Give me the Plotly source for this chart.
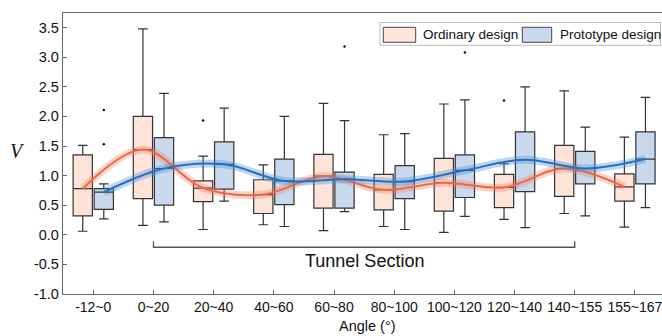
import plotly.graph_objects as go

# ---------------- data ----------------
categories = ["-12~0", "0~20", "20~40", "40~60", "60~80", "80~100",
              "100~120", "120~140", "140~155", "155~167"]

ord_lower = [0.06, 0.16, 0.09, 0.17, 0.07, 0.14, 0.04, 0.26, 0.36, 0.13]
ord_q1 = [0.32, 0.61, 0.56, 0.36, 0.45, 0.42, 0.40, 0.46, 0.65, 0.57]
ord_median = [0.78, 1.44, 0.79, 0.68, 0.99, 0.76, 0.88, 0.80, 1.12, 0.81]
ord_q3 = [1.35, 2.00, 0.91, 0.93, 1.36, 1.02, 1.29, 1.02, 1.51, 1.03]
ord_upper = [1.51, 3.48, 1.33, 1.18, 2.22, 1.69, 2.21, 1.20, 2.43, 1.65]

pro_lower = [0.27, 0.22, 0.57, 0.14, 0.39, 0.09, 0.31, 0.12, 0.32, 0.46]
pro_q1 = [0.43, 0.50, 0.77, 0.51, 0.45, 0.61, 0.63, 0.73, 0.86, 0.86]
pro_median = [0.72, 1.12, 1.19, 0.91, 0.94, 0.90, 1.09, 1.27, 1.12, 1.28]
pro_q3 = [0.78, 1.64, 1.57, 1.28, 1.06, 1.17, 1.35, 1.74, 1.41, 1.74]
pro_upper = [0.86, 2.39, 2.14, 2.00, 1.93, 1.71, 2.28, 2.50, 1.82, 2.32]

# outliers: (category index, value)
ord_out_idx = [2, 7]
ord_out_val = [1.93, 2.27]
pro_out_idx = [0, 0, 4, 6]
pro_out_val = [1.53, 2.11, 3.18, 3.08]

y_ticks = [-1.0, -0.5, 0.0, 0.5, 1.0, 1.5, 2.0, 2.5, 3.0, 3.5]

# ---------------- style / geometry ----------------
W, H = 662, 336
PL, PR, PT, PB = 63, 662, 13, 294
OFF = 0.175
BOXW = 0.32
X_RANGE = [-0.503, 9.45]
Y_RANGE = [-1.0, 3.747]

ORD_FILL = "#FEE3D9"
PRO_FILL = "#C9D9ED"
EDGE = "#333333"
ORD_LINE = "#EE6A45"
ORD_BAND = "rgba(244,120,90,0.32)"
PRO_LINE = "#2A6FBD"
PRO_BAND = "rgba(70,140,215,0.35)"
FONT = "Liberation Sans, Arial, sans-serif"

idx = list(range(len(categories)))
x_ord = [i - OFF for i in idx]
x_pro = [i + OFF for i in idx]

fig = go.Figure()

common = dict(width=BOXW, whiskerwidth=0.5, boxpoints=False,
              line=dict(color=EDGE, width=1.2), showlegend=False, hoverinfo="skip")

fig.add_trace(go.Box(x=x_ord, q1=ord_q1, median=ord_median, q3=ord_q3,
                     lowerfence=ord_lower, upperfence=ord_upper,
                     fillcolor=ORD_FILL, name="Ordinary design", **common))
fig.add_trace(go.Box(x=x_pro, q1=pro_q1, median=pro_median, q3=pro_q3,
                     lowerfence=pro_lower, upperfence=pro_upper,
                     fillcolor=PRO_FILL, name="Prototype design", **common))

# outliers
fig.add_trace(go.Scatter(x=[i - OFF for i in ord_out_idx], y=ord_out_val, mode="markers",
                         marker=dict(color="#111", size=2.5), showlegend=False, hoverinfo="skip"))
fig.add_trace(go.Scatter(x=[i + OFF for i in pro_out_idx], y=pro_out_val, mode="markers",
                         marker=dict(color="#111", size=2.5), showlegend=False, hoverinfo="skip"))

# smooth trend lines through medians (band + line)
for xs, ys, band, col in [(x_ord, ord_median, ORD_BAND, ORD_LINE),
                          (x_pro, pro_median, PRO_BAND, PRO_LINE)]:
    fig.add_trace(go.Scatter(x=xs, y=ys, mode="lines",
                             line=dict(shape="spline", smoothing=1.0, color=band, width=8),
                             showlegend=False, hoverinfo="skip"))
    fig.add_trace(go.Scatter(x=xs, y=ys, mode="lines",
                             line=dict(shape="spline", smoothing=1.0, color=col, width=2),
                             showlegend=False, hoverinfo="skip"))

# Tunnel section bracket
fig.add_shape(type="path", xref="x", yref="y",
              path="M 1,-0.11 L 1,-0.21 L 8,-0.21 L 8,-0.11",
              line=dict(color="#555", width=1.3))
fig.add_annotation(x=4.5, y=-0.44, xref="x", yref="y", text="Tunnel Section",
                   showarrow=False, font=dict(family=FONT, size=18, color="#111"))

# manual legend (pixel -> paper)
def px(v):
    return (v - PL) / (PR - PL)

def py(v):
    return (PB - v) / (PB - PT)

fig.add_shape(type="rect", xref="paper", yref="paper",
              x0=px(380), x1=px(660.5), y0=py(45.3), y1=py(22.5),
              line=dict(color="#bbbbbb", width=1), fillcolor="white", layer="above")
for x0, x1, fc, label, tx in [(383.3, 415.7, ORD_FILL, "Ordinary design", 421),
                              (522.3, 551.7, PRO_FILL, "Prototype design", 557.7)]:
    fig.add_shape(type="rect", xref="paper", yref="paper",
                  x0=px(x0), x1=px(x1), y0=py(42.3), y1=py(27.3),
                  line=dict(color="#444", width=1), fillcolor=fc, layer="above")
    fig.add_annotation(x=px(tx), y=py(34.8), xref="paper", yref="paper", text=label,
                       showarrow=False, xanchor="left", yanchor="middle",
                       font=dict(family=FONT, size=13.5, color="#111"))

# axis titles
fig.add_annotation(x=px(17.5), y=py(151), xref="paper", yref="paper", text="<i>V</i>",
                   showarrow=False, xanchor="center", yanchor="middle",
                   font=dict(family="Liberation Serif, Times New Roman, serif", size=20, color="#111"),
                   textangle=0)
fig.add_annotation(x=px(367), y=py(326), xref="paper", yref="paper", text="Angle (°)",
                   showarrow=False, xanchor="center", yanchor="middle",
                   font=dict(family=FONT, size=14.5, color="#111"))

fig.update_layout(
    width=W, height=H,
    margin=dict(l=PL, r=W - PR, t=PT, b=H - PB, pad=0),
    paper_bgcolor="white", plot_bgcolor="white",
    boxmode="overlay",
    font=dict(family=FONT, size=14, color="#111"),
    xaxis=dict(range=X_RANGE, tickmode="array", tickvals=idx, ticktext=categories,
               showgrid=False, zeroline=False, showline=True, linecolor="#666", linewidth=1.3,
               mirror=True, ticks="inside", ticklen=4, tickcolor="#666",
               ticklabeloverflow="allow",
               tickfont=dict(family=FONT, size=14, color="#111")),
    yaxis=dict(range=Y_RANGE, tickmode="array", tickvals=y_ticks,
               ticktext=[f"{v:.1f}" for v in y_ticks],
               showgrid=False, zeroline=False, showline=True, linecolor="#666", linewidth=1.3,
               ticks="inside", ticklen=4, tickcolor="#666",
               tickfont=dict(family=FONT, size=14.5, color="#111")),
    showlegend=False,
)

fig.write_html("out.html")
